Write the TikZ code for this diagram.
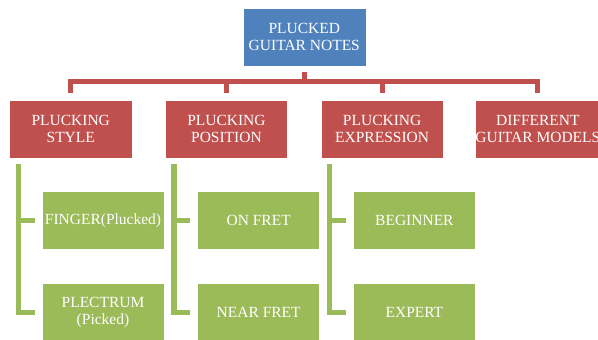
\documentclass[tikz,border=0pt]{standalone}
\usepackage{fontspec}
\setmainfont{Liberation Serif}
\usetikzlibrary{positioning}
\definecolor{topblue}{HTML}{4F81BD}
\definecolor{catred}{HTML}{C0504D}
\definecolor{leafgreen}{HTML}{9BBB59}

\begin{document}
\begin{tikzpicture}[x=1pt,y=1pt,level distance=92pt,level 1/.style={sibling distance=155.7pt},every node/.style = {align=center, text=white, font=\fontsize{15.5}{17}\selectfont, minimum width=123pt, minimum height=58pt, inner sep=0pt, draw=white, line width=0.6pt},edge from parent/.style={draw=catred, line width=5pt},edge from parent path={([yshift=-6pt]\tikzparentnode.south) -- ++(0,-9) -| ([yshift=7pt]\tikzchildnode.north)},branch/.style={fill=catred, minimum width=122.5pt},leaf/.style={fill=leafgreen, minimum width=122pt, minimum height=57.5pt},twig/.style={draw=leafgreen, line width=5.5pt}]
\useasboundingbox (0,0) rectangle (598,-340);
\node[fill=topblue](root) at (304.3,-37) {PLUCKED\\GUITAR NOTES}
child { node[branch] (style) {PLUCKING\\STYLE} }
child { node[branch] (position) {PLUCKING\\POSITION} }
child { node[branch] (expression) {PLUCKING\\EXPRESSION} }
child { node[branch] (models) {DIFFERENT\\GUITAR MODELS} };
\node[leaf, anchor=north west] (finger) at ([xshift=32.5pt,yshift=-33pt]style.south west) {FINGER(Plucked)};
\node[leaf, below=34pt of finger] (plectrum) {PLECTRUM\\(Picked)};
\node[leaf, anchor=north west] (onfret) at ([xshift=32.5pt,yshift=-33pt]position.south west) {ON FRET};
\node[leaf, below=34pt of onfret] (nearfret) {NEAR FRET};
\node[leaf, anchor=north west] (beginner) at ([xshift=32.5pt,yshift=-33pt]expression.south west) {BEGINNER};
\node[leaf, below=34pt of beginner] (expert) {EXPERT};
\draw[twig] ([xshift=9.5pt,yshift=-6pt]style.south west) |- ([xshift=-7pt]finger.west);
\draw[twig] ([xshift=9.5pt,yshift=-6pt]style.south west) |- ([xshift=-7pt]plectrum.west);
\draw[twig] ([xshift=9pt,yshift=-6pt]position.south west) |- ([xshift=-7pt]onfret.west);
\draw[twig] ([xshift=9pt,yshift=-6pt]position.south west) |- ([xshift=-7pt]nearfret.west);
\draw[twig] ([xshift=9pt,yshift=-6pt]expression.south west) |- ([xshift=-7pt]beginner.west);
\draw[twig] ([xshift=9pt,yshift=-6pt]expression.south west) |- ([xshift=-7pt]expert.west);
\end{tikzpicture}
\end{document}
